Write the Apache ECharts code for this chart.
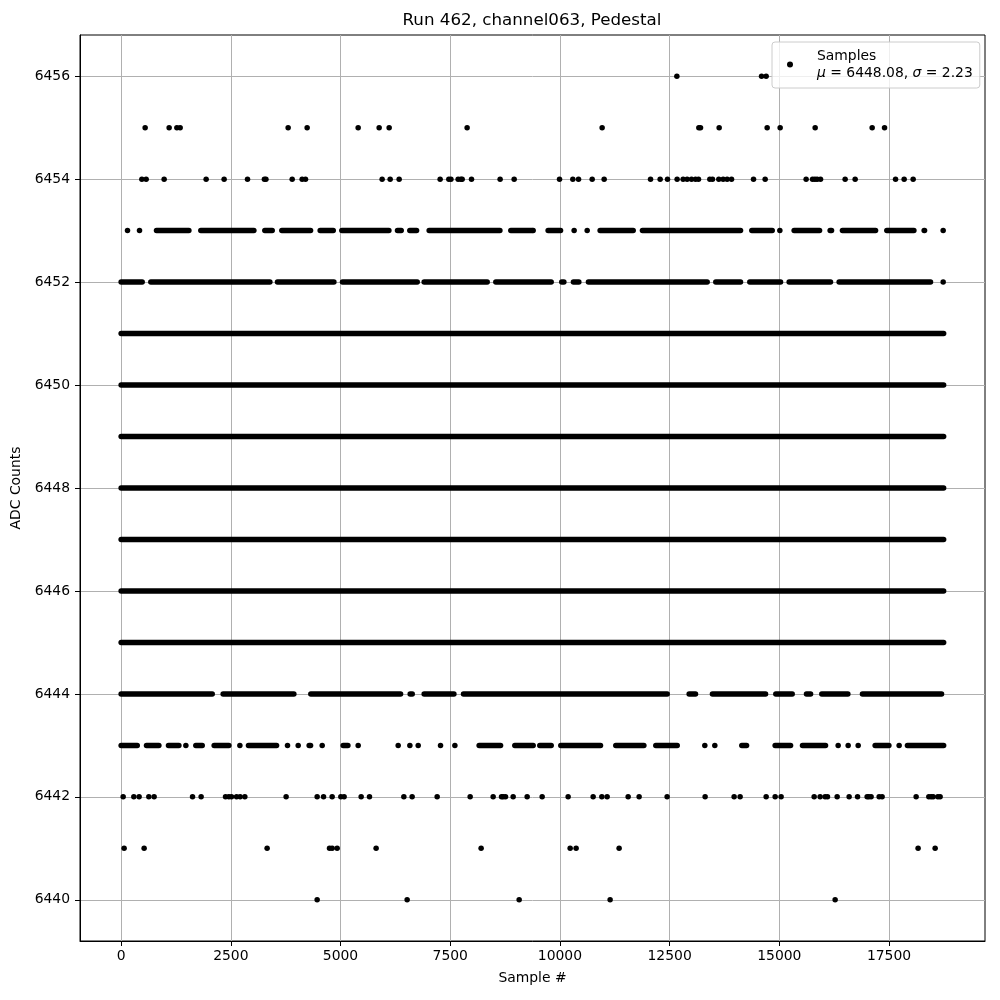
<!DOCTYPE html>
<html><head><meta charset="utf-8">
<script src="https://cdn.jsdelivr.net/npm/echarts@6/dist/echarts.min.js"></script>
<style>html,body{margin:0;padding:0;background:#fff}#c{width:1000px;height:1000px}</style>
</head><body><div id="c"></div>
<script>
const titleText = 'Run 462, channel063, Pedestal';
const xName = 'Sample #';
const yName = 'ADC Counts';
const seriesName = 'Samples';
const statsLabel = ['μ', ' = 6448.08, ', 'σ', ' = 2.23'];
const xTicks = [0, 2500, 5000, 7500, 10000, 12500, 15000, 17500];
const yTicks = [6440, 6442, 6444, 6446, 6448, 6450, 6452, 6454, 6456];

// isolated samples per ADC level (sample index)
const pts6456 = [12665, 14595, 14700];
const pts6455 = [547, 1094, 1270, 1345, 3806, 4239, 5402, 5880, 6108, 7885, 10962, 13166, 13204, 13629, 14723, 15019, 15817, 17116, 17398];
const pts6454 = [472, 570, 980, 1937, 2347, 2880, 3265, 3300, 3898, 4125, 4202, 5948, 6131, 6336, 7270, 7468, 7516, 7680, 7742, 7772, 7985, 8637, 8957, 9991, 10294, 10424, 10735, 11008, 12065, 12284, 12452, 12671, 12808, 12899, 12999, 13090, 13158, 13416, 13477, 13621, 13720, 13811, 13911, 14412, 14677, 15611, 15757, 15810, 15862, 15939, 16500, 16728, 17649, 17845, 18050];
const pts6453 = [145, 419, 9390, 10324, 10621, 15012, 18734];
const pts6452 = [18734];
const pts6443 = [1475, 2706, 3792, 4035, 4582, 5402, 6314, 6580, 6770, 7279, 7606, 13302, 13530, 16341, 16569, 16797, 17731];
const pts6442 = [46, 289, 410, 631, 752, 1627, 1823, 2379, 2455, 2515, 2630, 2712, 2819, 3760, 4467, 4613, 4809, 5007, 5082, 5470, 5660, 6443, 6632, 7202, 7954, 8478, 8669, 8706, 8760, 8934, 9253, 9595, 10187, 10757, 10955, 11076, 11555, 11805, 12443, 13309, 13970, 14107, 14700, 14905, 15041, 15794, 15930, 16044, 16098, 16318, 16591, 16783, 17001, 17040, 17092, 17275, 17343, 18118, 18407, 18460, 18506, 18613, 18665];
const pts6441 = [68, 524, 3327, 4749, 4809, 4923, 5811, 8204, 10233, 10369, 11349, 18163, 18551];
const pts6440 = [4467, 6518, 9071, 11144, 16272];

// runs of consecutive (overlapping) samples per level: [first, last]
const runs6453 = [[806,1544],[1816,3025],[3275,3443],[3662,4317],[4536,4834],[5030,6102],[6298,6383],[6579,6733],[7020,8632],[8881,9369],[9731,10014],[10916,11670],[11881,14116],[14373,14838],[15338,15917],[16158,16190],[16439,17193],[17450,18067],[18301,18310]];
const runs6452 = [[0,480],[676,3390],[3563,4849],[5045,6748],[6906,8343],[8539,9801],[10042,10090],[10308,10431],[10650,13356],[13552,14116],[14327,15028],[15224,16167],[16363,18446]];
const runs6451 = [[0,18745]];
const runs6450 = [[0,18745]];
const runs6449 = [[0,18745]];
const runs6448 = [[0,18745]];
const runs6447 = [[0,18745]];
const runs6446 = [[0,18745]];
const runs6445 = [[0,18745]];
const runs6444 = [[0,2076],[2325,3937],[4323,6368],[6587,6634],[6906,7584],[7803,12445],[12945,13090],[13476,14686],[14920,15294],[15619,15712],[15968,16562],[16895,18697]];
const runs6443 = [[0,367],[578,860],[1079,1316],[1702,1848],[2120,2455],[2902,3542],[4285,4317],[5060,5168],[8159,8647],[8972,9390],[9541,9801],[10020,10925],[11273,11913],[12185,12673],[14145,14253],[14905,15256],[15528,16053],[17184,17497],[17920,18745]];

const pointSets = [[6456,pts6456],[6455,pts6455],[6454,pts6454],[6453,pts6453],[6452,pts6452],[6443,pts6443],[6442,pts6442],[6441,pts6441],[6440,pts6440]];
const runSets = [[6453,runs6453],[6452,runs6452],[6451,runs6451],[6450,runs6450],[6449,runs6449],[6448,runs6448],[6447,runs6447],[6446,runs6446],[6445,runs6445],[6444,runs6444],[6443,runs6443]];

const scatterData = [];
pointSets.forEach(([lvl, xs]) => xs.forEach(x => scatterData.push([x, lvl])));
const runData = [];
runSets.forEach(([lvl, rs]) => rs.forEach(r => runData.push([r[0], r[1], lvl])));

const FONT = 'DejaVu Sans';
const DOT = 5.5;
const plain = v => String(v);
const chart = echarts.init(document.getElementById('c'), null, {renderer: 'canvas'});
chart.setOption({
  animation: false,
  backgroundColor: '#fff',
  title: {
    text: titleText, left: 532, top: 12, padding: 0, textAlign: 'center',
    textStyle: {fontFamily: FONT, fontSize: 16.7, fontWeight: 'normal', color: '#000'}
  },
  grid: {left: 80, right: 15, top: 35, bottom: 59, show: true, borderColor: '#000', borderWidth: 1, backgroundColor: 'transparent'},
  legend: {
    data: [seriesName], left: 772, top: 42, orient: 'vertical',
    icon: 'circle', itemWidth: 6, itemHeight: 6,
    padding: [7, 7, 8, 15],
    backgroundColor: 'rgba(255,255,255,0.8)', borderColor: '#cccccc', borderWidth: 1, borderRadius: 3,
    formatter: function (name) {
      return '{n|' + name + '}\n{i|' + statsLabel[0] + '}{n|' + statsLabel[1] + '}{i|' + statsLabel[2] + '}{n|' + statsLabel[3] + '}';
    },
    textStyle: {
      padding: [0, 0, 0, 19],
      rich: {
        n: {fontFamily: FONT, fontSize: 13.9, color: '#000', lineHeight: 17},
        i: {fontFamily: FONT, fontSize: 13.9, fontStyle: 'italic', color: '#000', lineHeight: 17}
      }
    }
  },
  xAxis: {
    type: 'value', min: -937.5, max: 19687.5,
    name: xName, nameLocation: 'middle', nameGap: 30,
    nameTextStyle: {fontFamily: FONT, fontSize: 13.9, color: '#000'},
    axisLine: {show: true, onZero: false, lineStyle: {color: '#000', width: 1}},
    axisTick: {show: true, length: 5, customValues: xTicks, lineStyle: {color: '#000', width: 1}},
    axisLabel: {customValues: xTicks, formatter: plain, margin: 8, color: '#000', fontFamily: FONT, fontSize: 13.9},
    splitLine: {show: true, lineStyle: {color: '#b0b0b0', width: 1}}
  },
  yAxis: {
    type: 'value', min: 6439.2, max: 6456.8,
    name: yName, nameLocation: 'middle', nameGap: 47,
    nameTextStyle: {fontFamily: FONT, fontSize: 13.9, color: '#000'},
    axisLine: {show: true, onZero: false, lineStyle: {color: '#000', width: 1}},
    axisTick: {show: true, length: 5, customValues: yTicks, lineStyle: {color: '#000', width: 1}},
    axisLabel: {customValues: yTicks, formatter: plain, margin: 10, color: '#000', fontFamily: FONT, fontSize: 13.9},
    splitLine: {show: true, lineStyle: {color: '#b0b0b0', width: 1}}
  },
  series: [
    {
      type: 'custom', name: 'runs', data: runData, encode: {x: [0, 1], y: 2},
      silent: true,
      renderItem: function (params, api) {
        const p0 = api.coord([api.value(0), api.value(2)]);
        const p1 = api.coord([api.value(1), api.value(2)]);
        return {type: 'line', shape: {x1: p0[0], y1: p0[1], x2: p1[0], y2: p1[1]},
                style: {stroke: '#000', lineWidth: DOT, lineCap: 'round'}};
      }
    },
    {
      type: 'scatter', name: seriesName, data: scatterData, symbol: 'circle', symbolSize: DOT,
      itemStyle: {color: '#000', opacity: 1}, large: false
    }
  ]
});
</script></body></html>
